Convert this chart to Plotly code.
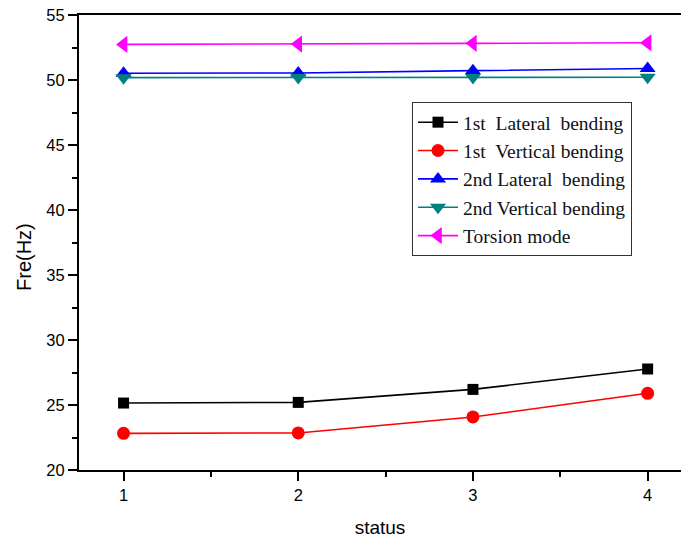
import plotly.graph_objects as go

status = [1, 2, 3, 4]
lat1 = [25.15, 25.2, 26.2, 27.77]
ver1 = [22.82, 22.85, 24.08, 25.9]
lat2 = [50.52, 50.54, 50.72, 50.88]
ver2 = [50.18, 50.19, 50.2, 50.21]
tors = [52.74, 52.76, 52.82, 52.86]

names = ["1st&nbsp; Lateral&nbsp; bending", "1st&nbsp; Vertical bending",
         "2nd Lateral&nbsp; bending", "2nd Vertical bending", "Torsion mode"]
series = [lat1, ver1, lat2, ver2, tors]
colors = ["#000000", "#ff0000", "#0000ff", "#008080", "#ff00ff"]
symbols = ["square", "circle", "triangle-up", "triangle-down", "triangle-left"]
sizes = [11, 13, 14, 14, 15]

fig = go.Figure()
for n, s, c, sym, sz in zip(names, series, colors, symbols, sizes):
    fig.add_trace(go.Scatter(x=status, y=s, name=n, mode="lines+markers",
                             line=dict(color=c, width=1.6),
                             marker=dict(symbol=sym, size=sz, color=c)))

fig.update_layout(
    width=681, height=539,
    margin=dict(l=79, r=0, t=15, b=69),
    plot_bgcolor="white", paper_bgcolor="white",
    showlegend=True,
    legend=dict(x=(412 - 79) / 602, y=1 - (102 - 15) / 455,
                xanchor="left", yanchor="top",
                font=dict(family="Liberation Serif", size=19.5, color="#111"),
                bordercolor="#333", borderwidth=1, bgcolor="white",
                tracegroupgap=0, itemwidth=40),
    xaxis=dict(range=[0.745, 4.191], tickvals=status, ticktext=["1", "2", "3", "4"],
               showgrid=False, zeroline=False, showline=True, linecolor="black",
               linewidth=2, mirror=True, ticks="outside", ticklen=9, tickwidth=1.5,
               tickcolor="black",
               minor=dict(tickvals=[1.5, 2.5, 3.5], ticks="outside", ticklen=5,
                          tickwidth=1.5, tickcolor="black"),
               tickfont=dict(family="Liberation Sans", size=16.5, color="black"),
               title=dict(text="status", font=dict(family="Liberation Sans", size=19, color="black"),
                          standoff=18)),
    yaxis=dict(range=[20, 55], tickvals=[20, 25, 30, 35, 40, 45, 50, 55],
               showgrid=False, zeroline=False, showline=True, linecolor="black",
               linewidth=2, ticks="outside", ticklen=9, tickwidth=1.5, tickcolor="black",
               minor=dict(tickvals=[22.5, 27.5, 32.5, 37.5, 42.5, 47.5, 52.5],
                          ticks="outside", ticklen=5, tickwidth=1.5, tickcolor="black"),
               tickfont=dict(family="Liberation Sans", size=16.5, color="black")),
    annotations=[dict(text="Fre(Hz)", textangle=-90, showarrow=False,
                      xref="paper", yref="paper",
                      x=(24 - 79) / 602, y=1 - (257 - 15) / 455,
                      xanchor="center", yanchor="middle",
                      font=dict(family="Liberation Sans", size=20, color="black"))],
)

fig.write_html("out.html")
